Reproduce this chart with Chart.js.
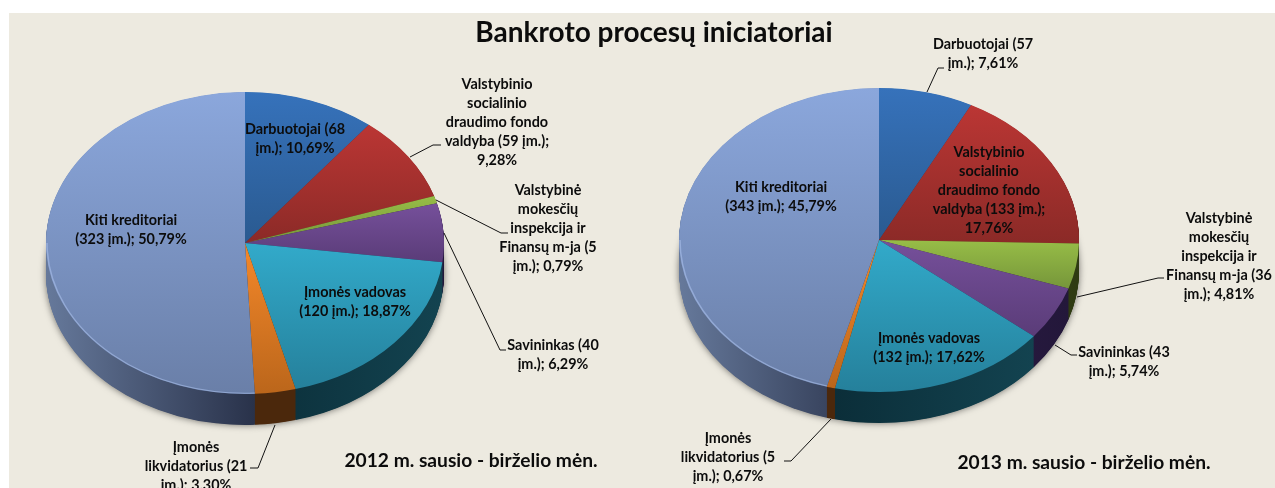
<!DOCTYPE html>
<html>
<head>
<meta charset="utf-8">
<script src="https://cdn.jsdelivr.net/npm/chart.js@4"></script>
<style>
	html, body { margin: 0; padding: 0; background: #fff; overflow: hidden; }
	#bg { position: absolute; left: 9px; top: 13px; width: 1266px; height: 475px; background: #edeae0; }
	canvas { position: absolute; left: 0; top: 0; }
</style>
</head>
<body>
<div id="bg"></div>
<canvas id="pie2012" width="1275" height="488"></canvas>
<canvas id="pie2013" width="1275" height="488"></canvas>
<script>
/* chart data */
const mainTitle = 'Bankroto procesų iniciatoriai'
const categories = ['Darbuotojai', 'Valstybinio socialinio draudimo fondo valdyba', 'Valstybinė mokesčių inspekcija ir Finansų m-ja', 'Savininkas', 'Įmonės vadovas', 'Įmonės likvidatorius', 'Kiti kreditoriai']
const values2012 = [68, 59, 5, 40, 120, 21, 323]
const values2013 = [57, 133, 36, 43, 132, 5, 343]
const period2012 = '2012 m. sausio - birželio mėn.'
const period2013 = '2013 m. sausio - birželio mėn.'
const labels2012 = [
	['Darbuotojai (68', 'įm.); 10,69%'],
	['Valstybinio', 'socialinio', 'draudimo fondo', 'valdyba (59 įm.);', '9,28%'],
	['Valstybinė', 'mokesčių', 'inspekcija ir', 'Finansų m-ja (5', 'įm.); 0,79%'],
	['Savininkas (40', 'įm.); 6,29%'],
	['Įmonės vadovas', '(120 įm.); 18,87%'],
	['Įmonės', 'likvidatorius (21', 'įm.); 3,30%'],
	['Kiti kreditoriai', '(323 įm.); 50,79%']
]
const labels2013 = [
	['Darbuotojai (57', 'įm.); 7,61%'],
	['Valstybinio', 'socialinio', 'draudimo fondo', 'valdyba (133 įm.);', '17,76%'],
	['Valstybinė', 'mokesčių', 'inspekcija ir', 'Finansų m-ja (36', 'įm.); 4,81%'],
	['Savininkas (43', 'įm.); 5,74%'],
	['Įmonės vadovas', '(132 įm.); 17,62%'],
	['Įmonės', 'likvidatorius (5', 'įm.); 0,67%'],
	['Kiti kreditoriai', '(343 įm.); 45,79%']
]

/* colours: top face from / to, side wall from / to */
const topColors = [
	['#3672bb', '#2a5a90'],
	['#bb3634', '#8b2a27'],
	['#97bd47', '#76963a'],
	['#76509b', '#5a3c78'],
	['#32aaca', '#25809b'],
	['#f4882a', '#bb661b'],
	['#8ba7dc', '#6a7fa8']
]
const wallColors = [
	['#1d3f66', '#1d3f66'],
	['#5e1d1c', '#5e1d1c'],
	['#3c4c18', '#2e3a12'],
	['#2f1f4a', '#23173a'],
	['#0b2e39', '#134350'],
	['#4b280c', '#4b280c'],
	['#66799b', '#29324a']
]

/* layout */
const geo2012 = { cx: 245, cy: 243, rx: 199, ry: 151, depth: 31 }
const geo2013 = { cx: 879, cy: 240, rx: 200, ry: 152, depth: 31 }
const pos2012 = [[295, 129], [497, 84], [548, 190], [553, 345], [355, 292], [196, 447], [131, 220]]
const pos2013 = [[983, 44], [989, 152], [1219, 218], [1124, 352], [929, 338], [728, 438], [781, 187]]
const leaders2012 = [
	[[410, 157], [433, 145], [441, 145]],
	[[436, 200], [501, 233], [508, 233]],
	[[444, 233], [500, 350], [506, 350]],
	[[275, 425], [258, 468], [250, 468]]
]
const leaders2013 = [
	[[927, 92], [938, 68], [944, 68]],
	[[1077, 297], [1158, 278], [1164, 278]],
	[[1055, 345], [1071, 355], [1077, 355]],
	[[831, 419], [791, 461], [784, 461]]
]
const lineStep = 19
const labelFont = 'bold 14.4px Lato'

const sectorBox = (arc) => {
	const pts = [[arc.x, arc.y]]
	const add = (a) => pts.push([arc.x + Math.cos(a) * arc.outerRadius, arc.y + Math.sin(a) * arc.outerRadius])
	add(arc.startAngle)
	add(arc.endAngle)
	for (let k = -4; k <= 8; k++) {
		const a = k * Math.PI / 2
		if (a > arc.startAngle && a < arc.endAngle) add(a)
	}
	const xs = pts.map((p) => p[0])
	const ys = pts.map((p) => p[1])
	return { left: Math.min(...xs), right: Math.max(...xs), top: Math.min(...ys), bottom: Math.max(...ys) }
}

const gradient = (ctx, x0, y0, x1, y1, stops) => {
	const g = ctx.createLinearGradient(x0, y0, x1, y1)
	g.addColorStop(0, stops[0])
	g.addColorStop(1, stops[1])
	return g
}

/* squashes the pie to an ellipse and stacks darker copies below it for the 3d wall */
const tiltPlugin = (geo, labels, positions, leaders, period, periodX, periodY) => ({
	id: 'tilt',
	beforeDatasetsDraw(chart) {
		const { ctx } = chart
		const arcs = chart.getDatasetMeta(0).data
		const k = geo.ry / geo.rx
		arcs.forEach((arc, i) => {
			const box = sectorBox(arc)
			arc.wallFill = gradient(ctx, box.left, 0, box.right, 0, wallColors[i])
			arc.topFill = gradient(ctx, 0, box.top, 0, box.bottom, topColors[i])
		})
		const paint = (d) => {
			ctx.save()
			ctx.translate(geo.cx, geo.cy + d)
			ctx.scale(1, k)
			ctx.translate(-geo.cx, -geo.cy)
			arcs.forEach((arc) => {
				arc.options = Object.assign({}, arc.options, { backgroundColor: arc.wallFill, borderWidth: 0 })
				arc.draw(ctx)
			})
			ctx.restore()
		}
		ctx.save()
		ctx.shadowColor = 'rgba(0,0,0,0.55)'
		ctx.shadowBlur = 7
		paint(geo.depth)
		ctx.restore()
		for (let d = geo.depth - 0.5; d > 0; d -= 0.5) paint(d)
		arcs.forEach((arc) => {
			arc.options = Object.assign({}, arc.options, { backgroundColor: arc.topFill })
		})
		ctx.save()
		ctx.translate(geo.cx, geo.cy)
		ctx.scale(1, k)
		ctx.translate(-geo.cx, -geo.cy)
	},
	afterDatasetsDraw(chart) {
		const { ctx } = chart
		/* light rim on the lower part of the big slice */
		const last = chart.getDatasetMeta(0).data[6]
		ctx.beginPath()
		ctx.arc(last.x, last.y, last.outerRadius - 1, last.startAngle, Math.PI)
		ctx.strokeStyle = 'rgba(170,192,235,0.6)'
		ctx.lineWidth = 1.5
		ctx.stroke()
		ctx.restore()
		ctx.save()
		ctx.strokeStyle = '#111'
		ctx.lineWidth = 1
		leaders.forEach((pts) => {
			ctx.beginPath()
			pts.forEach((p, i) => (i ? ctx.lineTo(p[0], p[1]) : ctx.moveTo(p[0], p[1])))
			ctx.stroke()
		})
		ctx.fillStyle = '#0c0c0c'
		ctx.textAlign = 'center'
		ctx.textBaseline = 'middle'
		ctx.font = labelFont
		labels.forEach((lines, i) => {
			lines.forEach((line, j) => ctx.fillText(line, positions[i][0], positions[i][1] + j * lineStep))
		})
		ctx.font = 'bold 19.2px Lato'
		ctx.fillText(period, periodX, periodY)
		ctx.restore()
	}
})

const drawPie = (id, values, geo, labels, positions, leaders, period, periodX, periodY) => {
	new Chart(id, {
		type: 'pie',
		data: {
			labels: categories,
			datasets: [{ data: values, backgroundColor: topColors.map((c) => c[0]), borderWidth: 0 }]
		},
		options: {
			responsive: false,
			animation: false,
			layout: {
				padding: {
					left: geo.cx - geo.rx,
					right: 1275 - geo.cx - geo.rx,
					top: geo.cy - geo.rx,
					bottom: 488 - geo.cy - geo.rx
				}
			},
			plugins: { legend: { display: false }, tooltip: { enabled: false } }
		},
		plugins: [tiltPlugin(geo, labels, positions, leaders, period, periodX, periodY)]
	})
}

drawPie('pie2012', values2012, geo2012, labels2012, pos2012, leaders2012, period2012, 471, 461)
drawPie('pie2013', values2013, geo2013, labels2013, pos2013, leaders2013, period2013, 1084, 463)

/* main title goes on the top canvas */
const topCtx = document.getElementById('pie2013').getContext('2d')
topCtx.font = 'bold 28px Lato'
topCtx.fillStyle = '#0c0c0c'
topCtx.textAlign = 'center'
topCtx.textBaseline = 'middle'
topCtx.fillText(mainTitle, 654, 33)
</script>
</body>
</html>
